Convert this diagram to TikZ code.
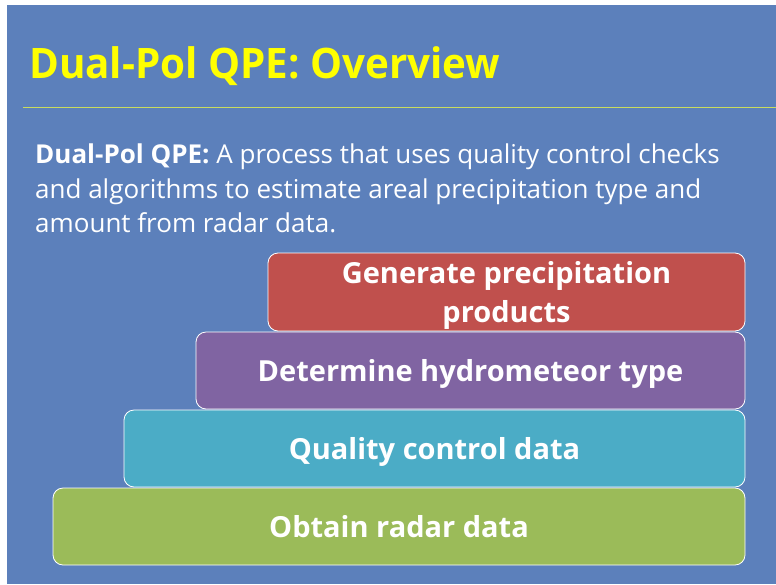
\documentclass[tikz,border=0pt]{standalone}
\usepackage{fontspec}
\setmainfont{Open Sans}
\newfontfamily\titlefont[FakeStretch=0.96]{Open Sans Bold}
\definecolor{bgblue}{HTML}{5C80BB}
\definecolor{titleyellow}{HTML}{FFFF00}
\definecolor{rulecol}{HTML}{C9DC5E}
\definecolor{boxred}{HTML}{C0504D}
\definecolor{boxpurple}{HTML}{8064A2}
\definecolor{boxcyan}{HTML}{4BACC6}
\definecolor{boxgreen}{HTML}{9BBB59}
\newcommand{\boxtext}[1]{\raisebox{-3.5pt}[\height][\depth]{\begin{tabular}{@{}c@{}}#1\end{tabular}}}
\tikzset{
  stepbox/.style={draw=white, line width=0.8pt, rounded corners=10pt, inner sep=0pt,
    minimum height=77pt, text=white, font=\fontsize{29}{39}\selectfont\bfseries},
  bodytext/.style={anchor=base west, inner sep=0pt, text=white, font=\fontsize{26}{34}\selectfont}
}
\begin{document}
\begin{tikzpicture}[x=1pt,y=-1pt]
\useasboundingbox (0,0) rectangle (776,584);
\fill[white] (0,0) rectangle (776,584);
\fill[bgblue] (7,5) rectangle (776,584);
\node[anchor=base west, inner sep=0pt, text=titleyellow, font=\titlefont\fontsize{42}{50}\selectfont] (title) at (29,78) {Dual-Pol QPE: Overview};
\coordinate (ruleL) at (23,107);
\coordinate (ruleR) at (776,107);
\draw[rulecol, line width=1pt] (ruleL) -- (ruleR);
\node[bodytext] (l1) at (35,163) {\textbf{Dual-Pol QPE:} A process that uses quality control checks};
\node[bodytext] (l2) at (35,198) {and algorithms to estimate areal precipitation type and};
\node[bodytext] (l3) at (35,232) {amount from radar data.};
\node[stepbox, fill=boxgreen, minimum width=692pt] (obtain) at (399,526.5) {\boxtext{Obtain radar data}};
\node[stepbox, fill=boxcyan, minimum width=621pt] (quality) at (434.5,448.5) {\boxtext{Quality control data}};
\node[stepbox, fill=boxpurple, minimum width=549pt] (determine) at (470.5,370.5) {\boxtext{Determine hydrometeor type}};
\node[stepbox, fill=boxred, minimum width=477pt, minimum height=78pt] (generate) at (506.5,292) {\boxtext{Generate precipitation\\products}};
\end{tikzpicture}
\end{document}
